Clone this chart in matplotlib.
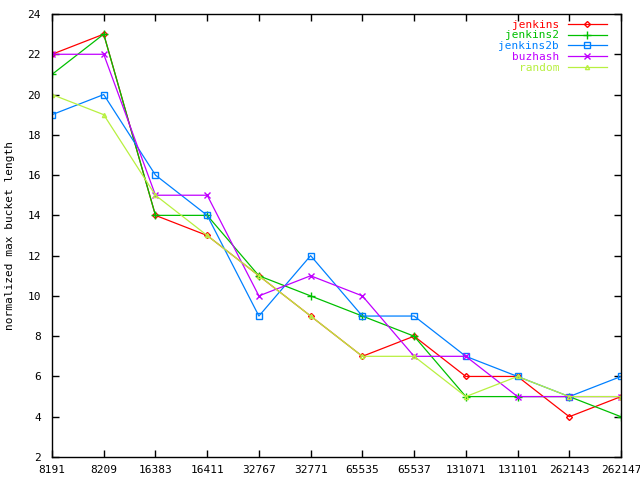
import matplotlib
matplotlib.use("Agg")
import matplotlib.pyplot as plt

categories = ["8191", "8209", "16383", "16411", "32767", "32771",
              "65535", "65537", "131071", "131101", "262143", "262147"]
jenkins = [22, 23, 14, 13, 11, 9, 7, 8, 6, 6, 4, 5]
jenkins2 = [21, 23, 14, 14, 11, 10, 9, 8, 5, 5, 5, 4]
jenkins2b = [19, 20, 16, 14, 9, 12, 9, 9, 7, 6, 5, 6]
buzhash = [22, 22, 15, 15, 10, 11, 10, 7, 7, 5, 5, 5]
random_ = [20, 19, 15, 13, 11, 9, 7, 7, 5, 6, 5, 5]
yticks = list(range(2, 25, 2))

plt.rcParams['font.family'] = ['DejaVu Sans Mono']
fig = plt.figure(figsize=(6.4, 4.8), dpi=100)
ax = fig.add_axes([52/640, 1-457/480, (621-52)/640, (457-14)/480])

x = list(range(len(categories)))
series = [
    ("jenkins", jenkins, "#ff0000", "D", 3),
    ("jenkins2", jenkins2, "#00c000", "+", 6),
    ("jenkins2b", jenkins2b, "#0080ff", "s", 4),
    ("buzhash", buzhash, "#c000ff", "x", 5),
    ("random", random_, "#b8f040", "^", 3),
]
for name, vals, c, m, ms in series:
    mfc = 'none' if m in ("D", "s", "^") else c
    ax.plot(x, vals, color=c, lw=0.9, marker=m, ms=ms, mfc=mfc, mec=c, mew=1.0, label=name)

ax.set_xlim(0, len(categories)-1)
ax.set_ylim(2, 24)
ax.set_xticks(x)
ax.set_xticklabels(categories, fontsize=8)
ax.set_yticks(yticks)
ax.set_yticklabels([str(v) for v in yticks], fontsize=8)
ax.tick_params(direction='in', top=True, right=True, length=5, width=1)
ax.tick_params(axis='x', pad=6)
ax.tick_params(axis='y', pad=8)
for s in ax.spines.values():
    s.set_linewidth(1)
ax.set_ylabel("normalized max bucket length", fontsize=8, labelpad=9)

leg = ax.legend(loc='upper right', bbox_to_anchor=(0.985, 1.0), frameon=False,
                markerfirst=False, fontsize=8,
                labelcolor='linecolor', handlelength=3.5, borderaxespad=0.1,
                labelspacing=0.08, handletextpad=0.8)
for t in leg.get_texts():
    t.set_ha('right')

fig.savefig("out.png", dpi=100)
